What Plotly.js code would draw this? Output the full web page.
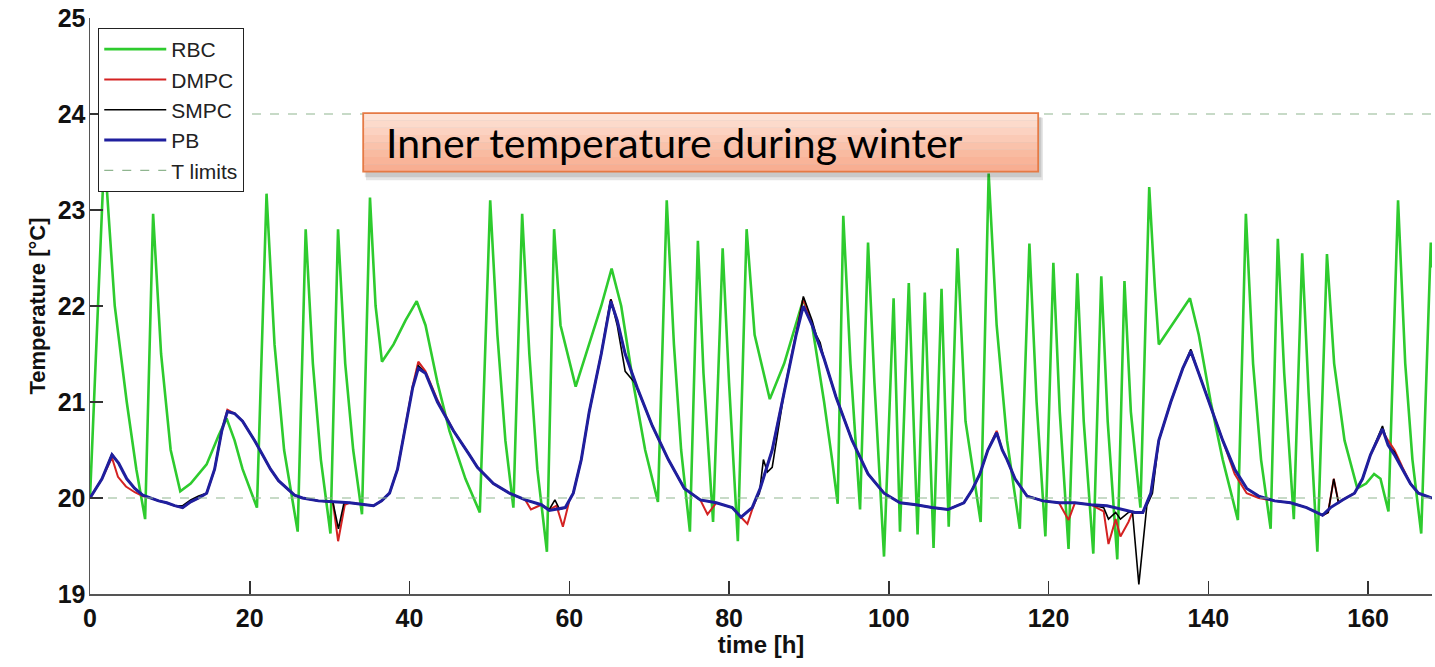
<!DOCTYPE html>
<html>
<head>
<meta charset="utf-8">
<script src="https://cdn.plot.ly/plotly-3.0.1.min.js"></script>
<style>html,body{margin:0;padding:0;background:#fff;}#chart{width:1435px;height:667px;}</style>
</head>
<body>
<div id="chart"></div>
<script>
// ---- RBC (rule based control) ----
const rbcT = [0,1.8,3.1,4.6,5.8,6.9,7.9,8.9,10.1,11.3,12.6,14.6,16.1,17.1,18.1,19.1,20.9,22.1,23.1,24.3,26.0,27.0,27.9,28.9,30.1,31.05,31.95,32.95,34.05,35.05,35.75,36.55,38.0,39.5,40.9,42.0,43.5,45.0,47.0,48.8,50.1,51.0,52.0,53.0,54.1,55.0,56.0,57.2,58.1,58.9,60.8,62.5,64.0,65.3,66.5,68.0,69.5,71.1,72.2,73.1,74.0,75.1,76.1,76.8,78.0,79.2,80.0,81.1,82.2,83.2,85.1,86.9,89.3,90.4,91.9,92.9,93.6,94.3,95.2,96.4,97.4,98.2,99.4,100.6,101.4,102.5,103.6,104.5,105.6,106.6,107.5,108.6,109.6,111.5,112.5,113.5,114.8,116.4,117.6,118.5,119.6,120.6,121.4,122.5,123.6,124.4,125.6,126.6,127.4,128.6,129.5,130.3,131.5,132.6,133.3,133.8,135.8,137.7,138.8,140.3,141.8,143.7,144.7,145.6,146.6,147.8,148.7,149.5,150.7,151.75,152.55,153.65,154.85,155.75,157.05,158.65,159.75,160.75,161.55,162.55,163.75,164.65,165.55,166.65,167.85,168];
const rbcY = [20.0,23.6,22.0,21.0,20.3,19.78,22.96,21.5,20.5,20.07,20.15,20.35,20.65,20.83,20.6,20.3,19.9,23.17,21.6,20.5,19.65,22.8,21.4,20.4,19.63,22.8,21.4,20.5,19.83,23.13,22.0,21.42,21.6,21.85,22.05,21.8,21.2,20.7,20.2,19.85,23.1,21.7,20.6,19.9,22.96,21.5,20.3,19.44,22.8,21.8,21.16,21.6,22.0,22.39,22.0,21.2,20.5,19.96,23.1,21.6,20.5,19.65,22.68,21.3,19.75,22.6,21.2,19.55,22.8,21.7,21.03,21.4,22.07,21.8,21.0,20.4,19.94,22.94,21.4,19.88,22.66,21.2,19.39,22.08,19.65,22.24,19.62,22.14,19.48,22.18,19.7,22.6,20.8,19.75,23.38,21.8,20.6,19.68,22.65,21.0,19.6,22.45,20.9,19.47,22.34,20.8,19.42,22.31,20.8,19.36,22.26,20.9,19.9,23.24,22.2,21.6,21.85,22.08,21.7,21.0,20.4,19.77,22.96,21.4,20.4,19.68,22.7,21.3,19.78,22.55,21.1,19.44,22.54,21.4,20.6,20.1,20.15,20.25,20.2,19.86,23.1,21.4,20.4,19.63,22.66,22.4];

// ---- PB ----
const pbT = [0,1.5,2.75,3.6,4.6,5.6,6.6,7.6,8.6,9.6,10.6,11.6,12.6,13.6,14.6,15.6,16.5,17.2,18.1,19.1,20.6,21.6,22.6,23.6,24.6,25.6,26.6,28.6,30.5,32.5,34.5,35.5,36.5,37.5,38.5,39.5,40.4,41.1,42.0,43.5,45.5,47.5,48.5,50.5,52.5,54.5,56.5,57.5,59.5,60.5,61.5,62.5,64.0,65.2,66.0,67.0,68.5,70.4,72.4,74.4,76.4,78.4,80.4,81.5,82.9,83.9,85.4,86.9,88.4,89.3,90.4,91.9,93.4,95.4,97.4,99.4,101.4,103.4,105.4,107.4,109.4,110.4,111.4,112.4,113.5,114.2,114.8,115.8,117.3,119.3,121.3,123.3,125.3,127.3,129.3,130.8,131.8,132.8,133.8,135.3,136.8,137.8,138.8,140.3,141.8,143.3,144.8,146.3,148.3,150.3,152.3,154.3,155.3,156.8,158.3,159.3,160.3,161.8,162.5,163.3,164.3,165.3,166.3,167.2,168];
const pbY = [20.0,20.2,20.45,20.36,20.2,20.1,20.03,20.0,19.97,19.95,19.92,19.9,19.96,20.0,20.05,20.3,20.7,20.9,20.88,20.8,20.6,20.45,20.3,20.18,20.1,20.03,20.0,19.97,19.96,19.95,19.93,19.92,19.97,20.05,20.3,20.75,21.15,21.35,21.3,21.0,20.7,20.45,20.32,20.15,20.05,19.98,19.93,19.87,19.9,20.05,20.4,20.9,21.5,22.05,21.85,21.5,21.15,20.75,20.4,20.1,19.98,19.95,19.9,19.8,19.9,20.1,20.5,21.1,21.7,22.0,21.8,21.45,21.05,20.6,20.25,20.05,19.95,19.93,19.9,19.88,19.95,20.08,20.25,20.5,20.68,20.5,20.4,20.2,20.02,19.97,19.95,19.95,19.93,19.92,19.88,19.85,19.85,20.05,20.6,21.0,21.35,21.53,21.3,20.95,20.6,20.3,20.1,20.02,19.97,19.95,19.9,19.82,19.9,19.98,20.05,20.2,20.45,20.72,20.55,20.45,20.3,20.15,20.05,20.02,20.0];

// ---- DMPC ----
const dmpcT = [0,1.5,2.75,3.5,4.5,5.6,6.6,7.6,8.6,9.6,10.6,11.6,12.6,13.6,14.6,15.6,16.5,17.2,18.1,19.1,20.6,21.6,22.6,23.6,24.6,25.6,26.6,28.6,30.4,31.06,31.9,32.5,34.5,35.5,36.5,37.5,38.5,39.5,40.4,41.1,42.0,43.5,45.5,47.5,48.5,50.5,52.5,54.5,55.2,56.5,57.5,58.4,59.2,60.0,60.5,61.5,62.5,64.0,65.2,66.0,67.0,68.5,70.4,72.4,74.4,76.4,77.3,78.4,80.4,81.5,82.3,82.9,83.9,85.4,86.9,88.4,89.3,90.4,91.9,93.4,95.4,97.4,99.4,101.4,103.4,105.4,107.4,109.4,110.4,111.4,112.4,113.5,114.2,114.8,115.8,117.3,119.3,121.3,122.5,123.3,125.3,126.9,127.5,128.4,129.0,130.0,130.5,131.8,132.8,133.8,135.3,136.8,137.8,138.8,140.3,141.8,143.3,144.8,146.3,148.3,150.3,152.3,154.3,155.0,155.7,156.3,156.8,158.3,159.3,160.3,161.8,162.5,163.3,164.3,165.3,166.3,167.2,168];
const dmpcY = [20.0,20.2,20.42,20.22,20.12,20.06,20.02,20.0,19.97,19.95,19.92,19.9,19.96,20.0,20.05,20.3,20.7,20.92,20.88,20.8,20.6,20.45,20.3,20.18,20.1,20.03,20.0,19.97,19.96,19.55,19.93,19.95,19.93,19.92,19.97,20.05,20.3,20.75,21.17,21.42,21.32,21.02,20.7,20.45,20.32,20.15,20.05,19.98,19.88,19.93,19.88,19.92,19.7,19.97,20.05,20.4,20.9,21.5,22.07,21.85,21.5,21.15,20.75,20.4,20.1,19.98,19.83,19.95,19.9,19.8,19.73,19.88,20.1,20.5,21.1,21.7,22.08,21.8,21.45,21.05,20.6,20.25,20.05,19.95,19.93,19.9,19.88,19.95,20.08,20.25,20.5,20.7,20.5,20.4,20.2,20.02,19.97,19.95,19.77,19.95,19.93,19.86,19.52,19.78,19.6,19.75,19.85,19.85,20.05,20.6,21.0,21.35,21.52,21.3,20.95,20.6,20.25,20.05,20.0,19.97,19.95,19.9,19.82,19.85,20.2,19.95,19.98,20.05,20.2,20.45,20.7,20.6,20.5,20.32,20.15,20.05,20.02,20.0];

// ---- SMPC ----
const smpcT = [0,1.5,2.75,3.6,4.6,5.6,6.6,7.6,8.6,9.6,10.6,11.6,12.6,13.6,14.6,15.6,16.5,17.2,18.1,19.1,20.6,21.6,22.6,23.6,24.6,25.6,26.6,28.6,30.4,31.1,31.8,32.5,34.5,35.5,36.5,37.5,38.5,39.5,40.4,41.1,42.0,43.5,45.5,47.5,48.5,50.5,52.5,54.5,56.5,57.5,58.2,58.8,59.5,60.5,61.5,62.5,64.0,65.2,66.0,67.0,68.2,69.3,70.4,72.4,74.4,76.4,78.4,80.4,81.5,82.9,83.8,84.3,84.8,85.4,86.9,88.4,89.3,90.4,90.9,91.4,91.9,93.4,95.4,97.4,99.4,101.4,103.4,105.4,107.4,109.4,110.4,111.4,112.4,113.5,114.2,114.8,115.8,117.3,119.3,121.3,123.3,125.3,126.9,127.5,128.4,129.0,130.0,130.5,131.3,132.3,133.0,133.8,135.3,136.8,137.8,138.8,140.3,141.8,143.3,144.8,146.3,148.3,150.3,152.3,154.3,155.0,155.7,156.3,156.8,158.3,159.3,160.3,161.8,162.5,163.3,164.3,165.3,166.3,167.2,168];
const smpcY = [20.0,20.2,20.46,20.36,20.2,20.1,20.03,20.0,19.97,19.95,19.92,19.92,19.98,20.02,20.05,20.3,20.7,20.9,20.88,20.8,20.6,20.45,20.3,20.18,20.1,20.03,20.0,19.97,19.96,19.68,19.95,19.95,19.93,19.92,19.97,20.05,20.3,20.75,21.15,21.38,21.3,21.0,20.7,20.45,20.32,20.15,20.05,19.98,19.93,19.88,19.98,19.88,19.9,20.05,20.4,20.9,21.5,22.07,21.8,21.32,21.2,20.98,20.75,20.4,20.1,19.98,19.95,19.9,19.8,19.9,20.05,20.4,20.27,20.32,21.1,21.7,22.1,21.85,21.7,21.62,21.45,21.05,20.6,20.25,20.05,19.95,19.93,19.9,19.88,19.95,20.08,20.25,20.5,20.68,20.5,20.4,20.2,20.02,19.97,19.95,19.95,19.93,19.9,19.78,19.85,19.78,19.85,19.86,19.1,19.92,20.05,20.6,21.0,21.35,21.55,21.3,20.95,20.6,20.3,20.1,20.02,19.97,19.95,19.9,19.82,19.85,20.2,19.95,19.98,20.05,20.2,20.45,20.75,20.55,20.48,20.3,20.15,20.05,20.02,20.0];

// ---- limits ----
const limT = [0,168,null,0,168];
const limY = [20,20,null,24,24];

const xTicks = [0,20,40,60,80,100,120,140,160];
const yTicks = [19,20,21,22,23,24,25];
const seriesNames = ['RBC','DMPC','SMPC','PB','T limits'];
const titleText = 'Inner temperature during winter';

const FONT = 'Liberation Sans, Arial, sans-serif';

const traces = [
  {x: rbcT, y: rbcY, name: seriesNames[0], mode: 'lines', line: {color: '#2ecb2e', width: 2.6}},
  {x: dmpcT, y: dmpcY, name: seriesNames[1], mode: 'lines', line: {color: '#d42222', width: 2}},
  {x: smpcT, y: smpcY, name: seriesNames[2], mode: 'lines', line: {color: '#000000', width: 1.6}},
  {x: pbT, y: pbY, name: seriesNames[3], mode: 'lines', line: {color: '#1f1f9e', width: 3}},
  {x: limT, y: limY, name: seriesNames[4], mode: 'lines', connectgaps: false, line: {color: '#8fb58f', width: 1.2, dash: 'dash'}}
];

// annotation box (gradient via stacked bands) in data coordinates
const boxX0 = 34.2, boxX1 = 118.7, boxY0 = 23.40, boxY1 = 24.01;
const bandColors = ['#fde2d6','#fcdacb','#fcd2c1','#fbcab6','#fac2ab','#f9bba1','#f9b499','#f8ae92'];
const shapes = [];
shapes.push({type:'rect', xref:'x', yref:'y', x0: boxX0+0.35, x1: boxX1+0.6, y0: boxY0-0.09, y1: boxY1-0.05, fillcolor:'rgba(0,0,0,0.10)', line:{width:0}, layer:'above'});
shapes.push({type:'rect', xref:'x', yref:'y', x0: boxX0+0.2, x1: boxX1+0.4, y0: boxY0-0.06, y1: boxY1-0.04, fillcolor:'rgba(0,0,0,0.12)', line:{width:0}, layer:'above'});
for (let i = 0; i < bandColors.length; i++) {
  const h = (boxY1 - boxY0) / bandColors.length;
  shapes.push({type:'rect', xref:'x', yref:'y', x0: boxX0, x1: boxX1, y0: boxY1 - (i+1)*h, y1: boxY1 - i*h, fillcolor: bandColors[i], line:{width:0}, layer:'above'});
}
shapes.push({type:'rect', xref:'x', yref:'y', x0: boxX0, x1: boxX1, y0: boxY0, y1: boxY1, line:{color:'#e57a45', width:1.8}, layer:'above'});

const layout = {
  width: 1435, height: 667,
  margin: {l: 90, r: 3, t: 18, b: 73},
  paper_bgcolor: '#ffffff', plot_bgcolor: '#ffffff',
  showlegend: true,
  legend: {
    x: 0.006, y: 0.983, xanchor: 'left', yanchor: 'top',
    bgcolor: '#ffffff', bordercolor: '#222222', borderwidth: 1.2,
    font: {family: FONT, size: 21, color: '#222'},
    itemwidth: 62, tracegroupgap: 0
  },
  xaxis: {
    range: [0, 168], tickmode: 'array', tickvals: xTicks, ticktext: xTicks.map(String),
    showgrid: false, zeroline: false, showline: true, linecolor: '#555', linewidth: 1.5,
    ticks: 'inside', ticklen: 13, tickwidth: 1.5, tickcolor: '#333',
    tickfont: {family: FONT, size: 25, color: '#111', weight: 'bold'},
    ticklabelstandoff: 1,
    title: {text: 'time [h]', font: {family: FONT, size: 24, color: '#111', weight: 'bold'}, standoff: 4}
  },
  yaxis: {
    range: [19, 25], tickmode: 'array', tickvals: yTicks, ticktext: yTicks.map(String),
    showgrid: false, zeroline: false, showline: true, linecolor: '#555', linewidth: 1.5,
    ticks: 'inside', ticklen: 13, tickwidth: 1.5, tickcolor: '#333',
    tickfont: {family: FONT, size: 25, color: '#111', weight: 'bold'},
    ticklabelstandoff: -2,
    title: {text: 'Temperature [°C]', font: {family: FONT, size: 22, color: '#111', weight: 'bold'}, standoff: 6}
  },
  shapes: shapes,
  annotations: [{
    xref: 'x', yref: 'y', x: 36.8, y: (boxY0 + boxY1) / 2, xanchor: 'left', yanchor: 'middle',
    text: titleText, showarrow: false,
    font: {family: 'Lato, Open Sans, sans-serif', size: 41, color: '#000'}
  }]
};

Plotly.newPlot('chart', traces, layout, {displayModeBar: false, staticPlot: true});
</script>
</body>
</html>
